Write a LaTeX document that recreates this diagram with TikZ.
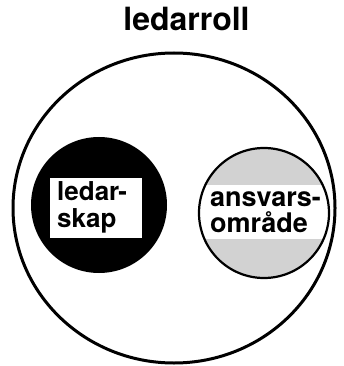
\documentclass[tikz,border=0pt]{standalone}
\usepackage{fontspec}
\setmainfont{TeX Gyre Heros}
\usetikzlibrary{calc, positioning}

\tikzset{
  lbl/.style={font=\bfseries\fontsize{26}{27}\selectfont, align=left, inner sep=0pt},
}

\begin{document}
\begin{tikzpicture}[x=1pt, y=-1pt]
  \useasboundingbox (0,0) rectangle (343,366);
  % title
  \node[font=\bfseries\fontsize{32}{32}\selectfont, anchor=base, inner sep=0pt] (title) at (186.5,31) {ledarroll};
  % outer circle (the role)
  \draw[line width=3pt] (174,208) ellipse (161 and 155);
  % black disc with white box
  \fill (99,205) circle (68);
  \fill[white] (50,178) rectangle (142,238);
  \node[lbl, anchor=north west] (lead) at (57,181.5) {ledar-\\skap};
  % shaded disc with white band
  \fill[gray!35] (264,213) circle (65);
  \begin{scope}
    \clip (264,213) circle (65);
    \fill[white] (190,185) rectangle (340,239);
  \end{scope}
  \draw[line width=2.2pt] (264,213) circle (65);
  \node[lbl, font=\bfseries\fontsize{27}{25.5}\selectfont, anchor=north west] (area) at (210,191.5) {ansvars-\\område};
\end{tikzpicture}
\end{document}
